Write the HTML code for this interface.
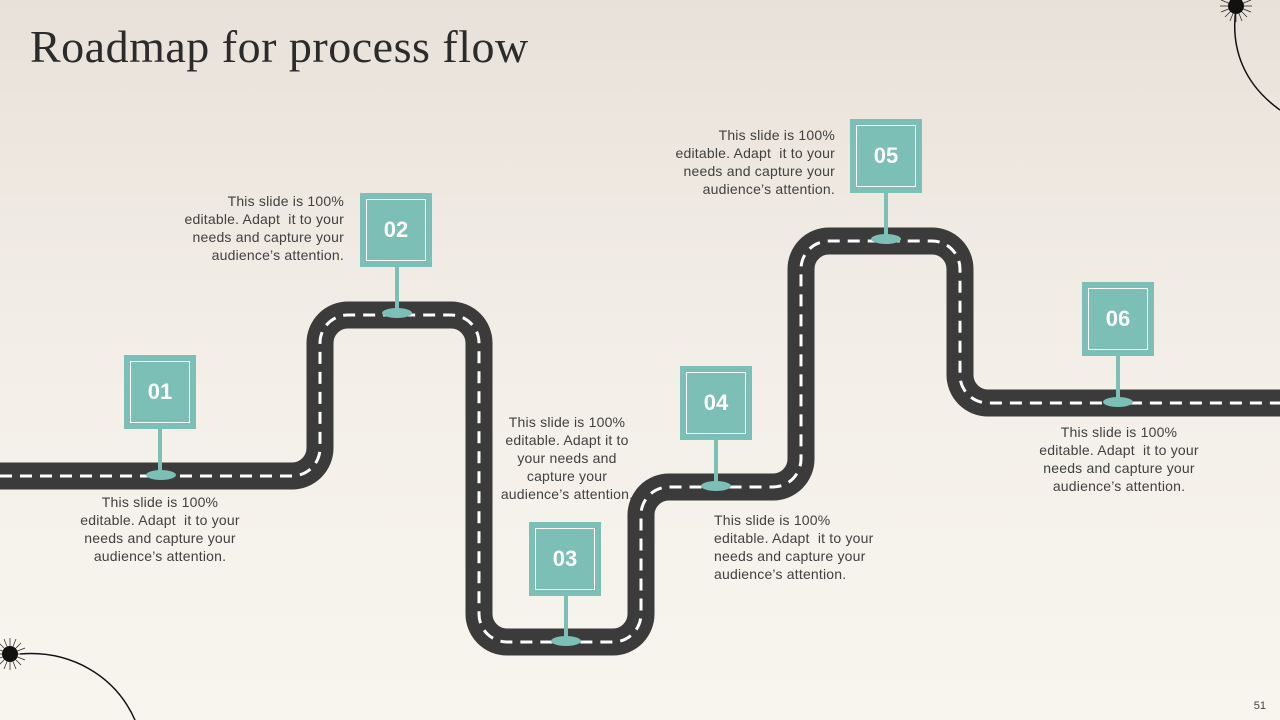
<!DOCTYPE html>
<html><head><meta charset="utf-8"><style>
body{margin:0}
.s{position:relative;width:1280px;height:720px;overflow:hidden;background:linear-gradient(#e8e1d9,#f3efe8 50%,#f8f5ef);font-family:"Liberation Sans",sans-serif}
h1{position:absolute;left:30px;top:20px;margin:0;font-family:"Liberation Serif",serif;font-weight:normal;font-size:46px;color:#2b2b2b;letter-spacing:0.5px}
.t{position:absolute;font-size:14px;line-height:18px;color:#404040;width:180px;letter-spacing:0.2px}
.sign{position:absolute;width:72px;height:74px;background:#7bbfb7}
.sign div{position:absolute;left:6px;top:6px;right:6px;bottom:6px;border:1px solid #fff;color:#fff;font-weight:bold;font-size:22px;display:flex;align-items:center;justify-content:center}
.pg{position:absolute;right:14px;bottom:8px;font-size:11px;color:#444}
</style></head><body><div class="s">
<h1>Roadmap for process flow</h1>
<svg width="1280" height="720" style="position:absolute;left:0;top:0">
<defs><g id="burst" stroke="#222" stroke-width="0.7">
<line x1="-16" y1="0" x2="16" y2="0"/><line x1="0" y1="-16" x2="0" y2="16"/><line x1="-11" y1="-11" x2="11" y2="11"/><line x1="-11" y1="11" x2="11" y2="-11"/>
<line x1="-15" y1="-6" x2="15" y2="6"/><line x1="-15" y1="6" x2="15" y2="-6"/><line x1="-6" y1="-15" x2="6" y2="15"/><line x1="6" y1="-15" x2="-6" y2="15"/>
<circle r="8" fill="#111" stroke="none"/></g></defs>
<path d="M1236 8 C1230 50 1245 85 1280 110" fill="none" stroke="#111" stroke-width="1.5"/>
<use href="#burst" x="1236" y="6"/>
<path d="M20 654 C70 650 115 675 135 720" fill="none" stroke="#111" stroke-width="1.5"/>
<use href="#burst" x="10" y="654"/>
<path d="M0 476 H292 A28 28 0 0 0 320 448 V343 A28 28 0 0 1 348 315 H451 A28 28 0 0 1 479 343 V614 A28 28 0 0 0 507 642 H613 A28 28 0 0 0 641 614 V515 A28 28 0 0 1 669 487 H773 A28 28 0 0 0 801 459 V269 A28 28 0 0 1 829 241 H932 A28 28 0 0 1 960 269 V375 A28 28 0 0 0 988 403 H1280" fill="none" stroke="#3b3b3b" stroke-width="27"/>
<path d="M0 476 H292 A28 28 0 0 0 320 448 V343 A28 28 0 0 1 348 315 H451 A28 28 0 0 1 479 343 V614 A28 28 0 0 0 507 642 H613 A28 28 0 0 0 641 614 V515 A28 28 0 0 1 669 487 H773 A28 28 0 0 0 801 459 V269 A28 28 0 0 1 829 241 H932 A28 28 0 0 1 960 269 V375 A28 28 0 0 0 988 403 H1280" fill="none" stroke="#fff" stroke-width="3" stroke-dasharray="12 8"/>
<g fill="#7bbfb7">
<rect x="158" y="428" width="4" height="46"/><ellipse cx="161" cy="475" rx="15" ry="5"/>
<rect x="395" y="266" width="4" height="46"/><ellipse cx="397" cy="313" rx="15" ry="5"/>
<rect x="564" y="595" width="4" height="44"/><ellipse cx="566" cy="641" rx="15" ry="5"/>
<rect x="714" y="439" width="4" height="46"/><ellipse cx="716" cy="486" rx="15" ry="5"/>
<rect x="884" y="192" width="4" height="46"/><ellipse cx="886" cy="239" rx="15" ry="5"/>
<rect x="1116" y="354" width="4" height="47"/><ellipse cx="1118" cy="402" rx="15" ry="5"/>
</g>
</svg>
<div class="sign" style="left:124px;top:355px"><div>01</div></div>
<div class="sign" style="left:360px;top:193px"><div>02</div></div>
<div class="sign" style="left:529px;top:522px"><div>03</div></div>
<div class="sign" style="left:680px;top:366px"><div>04</div></div>
<div class="sign" style="left:850px;top:119px"><div>05</div></div>
<div class="sign" style="left:1082px;top:282px"><div>06</div></div>
<div class="t" style="left:70px;top:493px;text-align:center">This slide is 100%<br>editable. Adapt &nbsp;it to your<br>needs and capture your<br>audience’s attention.</div>
<div class="t" style="left:164px;top:192px;text-align:right">This slide is 100%<br>editable. Adapt &nbsp;it to your<br>needs and capture your<br>audience’s attention.</div>
<div class="t" style="left:477px;top:413px;text-align:center">This slide is 100%<br>editable. Adapt it to<br>your needs and<br>capture your<br>audience’s attention.</div>
<div class="t" style="left:714px;top:511px;width:200px">This slide is 100%<br>editable. Adapt &nbsp;it to your<br>needs and capture your<br>audience’s attention.</div>
<div class="t" style="left:655px;top:126px;text-align:right">This slide is 100%<br>editable. Adapt &nbsp;it to your<br>needs and capture your<br>audience’s attention.</div>
<div class="t" style="left:1029px;top:423px;text-align:center">This slide is 100%<br>editable. Adapt &nbsp;it to your<br>needs and capture your<br>audience’s attention.</div>
<div class="pg">51</div>
</div></body></html>
